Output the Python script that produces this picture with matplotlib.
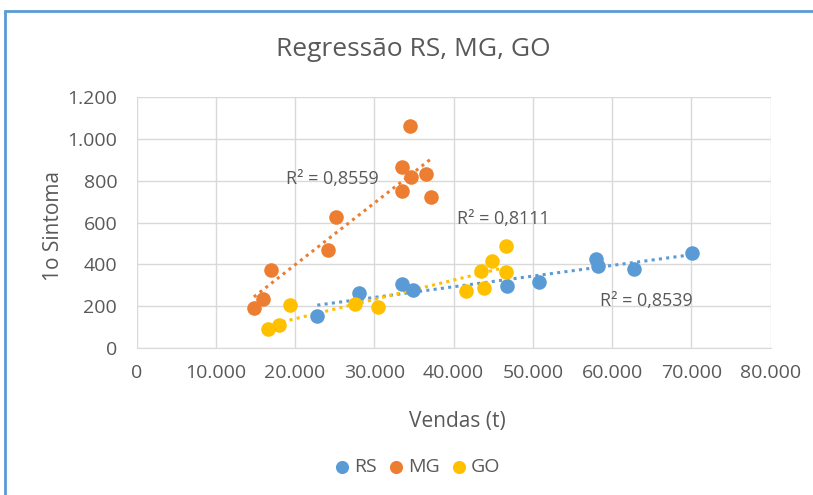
import numpy as np
import matplotlib.pyplot as plt
from matplotlib.patches import Rectangle

plt.rcParams['font.family'] = ['Open Sans', 'DejaVu Sans']

# RS
rs_x = [22800, 28100, 33500, 34900, 46700, 50800, 58000, 58200, 62700, 70100]
rs_y = [155, 265, 307, 278, 297, 315, 426, 393, 378, 456]
# MG
mg_x = [14800, 15900, 17000, 24200, 25100, 33500, 33500, 34500, 34600, 36500, 37100]
mg_y = [190, 234, 372, 470, 628, 864, 752, 1058, 816, 829, 724]
# GO
go_x = [16600, 18000, 19300, 27600, 30400, 41500, 43800, 43400, 44800, 46600, 46600]
go_y = [91, 111, 207, 210, 196, 273, 289, 369, 417, 488, 363]

r2_labels = ['R² = 0,8539', 'R² = 0,8559', 'R² = 0,8111']
x_ticks = [0, 10000, 20000, 30000, 40000, 50000, 60000, 70000, 80000]
y_ticks = [0, 200, 400, 600, 800, 1000, 1200]

def fmt(v):
    return f'{v:,}'.replace(',', '.')

fig = plt.figure(figsize=(8.13, 4.95), dpi=100)
ax = fig.add_axes([0.168, 0.2964, 0.780, 0.5082])

series = [('RS', rs_x, rs_y, '#5b9bd5'),
          ('MG', mg_x, mg_y, '#ed7d31'),
          ('GO', go_x, go_y, '#ffc000')]

for name, xs, ys, c in series:
    ax.scatter(xs, ys, s=110, color=c, label=name, zorder=3, linewidths=0)
    a, b = np.polyfit(xs, ys, 1)
    xx = np.array([min(xs), max(xs)])
    ax.plot(xx, a * xx + b, color=c, lw=2.2, linestyle=(0, (1, 1.4)), zorder=2)

gray = '#595959'
ax.text(24750, 808, r2_labels[1], fontsize=13, color=gray, ha='center', va='center')
ax.text(46300, 616, r2_labels[2], fontsize=13, color=gray, ha='center', va='center')
ax.text(64300, 227, r2_labels[0], fontsize=13, color=gray, ha='center', va='center')

ax.set_xlim(0, 80000)
ax.set_ylim(0, 1200)
ax.set_xticks(x_ticks)
ax.set_xticklabels([fmt(v) for v in x_ticks])
ax.set_yticks(y_ticks)
ax.set_yticklabels([fmt(v) for v in y_ticks])
ax.grid(True, color='#d9d9d9', lw=1)
ax.set_axisbelow(True)
for s in ['top', 'right', 'left']:
    ax.spines[s].set_visible(False)
ax.spines['bottom'].set_color('#d9d9d9')
ax.tick_params(length=0, labelsize=14, labelcolor=gray)
ax.tick_params(axis='x', pad=11)
ax.tick_params(axis='y', pad=14)

fig.text(0.562, 0.1475, 'Vendas (t)', fontsize=15, color=gray, ha='center', va='center')
fig.text(0.0664, 0.543, '1o Sintoma', fontsize=15, color=gray, ha='center', va='center',
         rotation=90)
fig.text(0.508, 0.899, 'Regressão RS, MG, GO', fontsize=19, color=gray, ha='center', va='center')

fig.legend(loc='center', bbox_to_anchor=(0.514, 0.0566), ncol=3, frameon=False,
           fontsize=14, labelcolor=gray, handlelength=0.7, handletextpad=0.3,
           columnspacing=0.6, markerscale=0.9)

fig.patches.append(Rectangle((5 / 813, -0.1), 2, 1.1 - 11 / 495, transform=fig.transFigure,
                             fill=False, edgecolor='#5b9bd5', lw=2))

fig.savefig('out.png', dpi=100)
